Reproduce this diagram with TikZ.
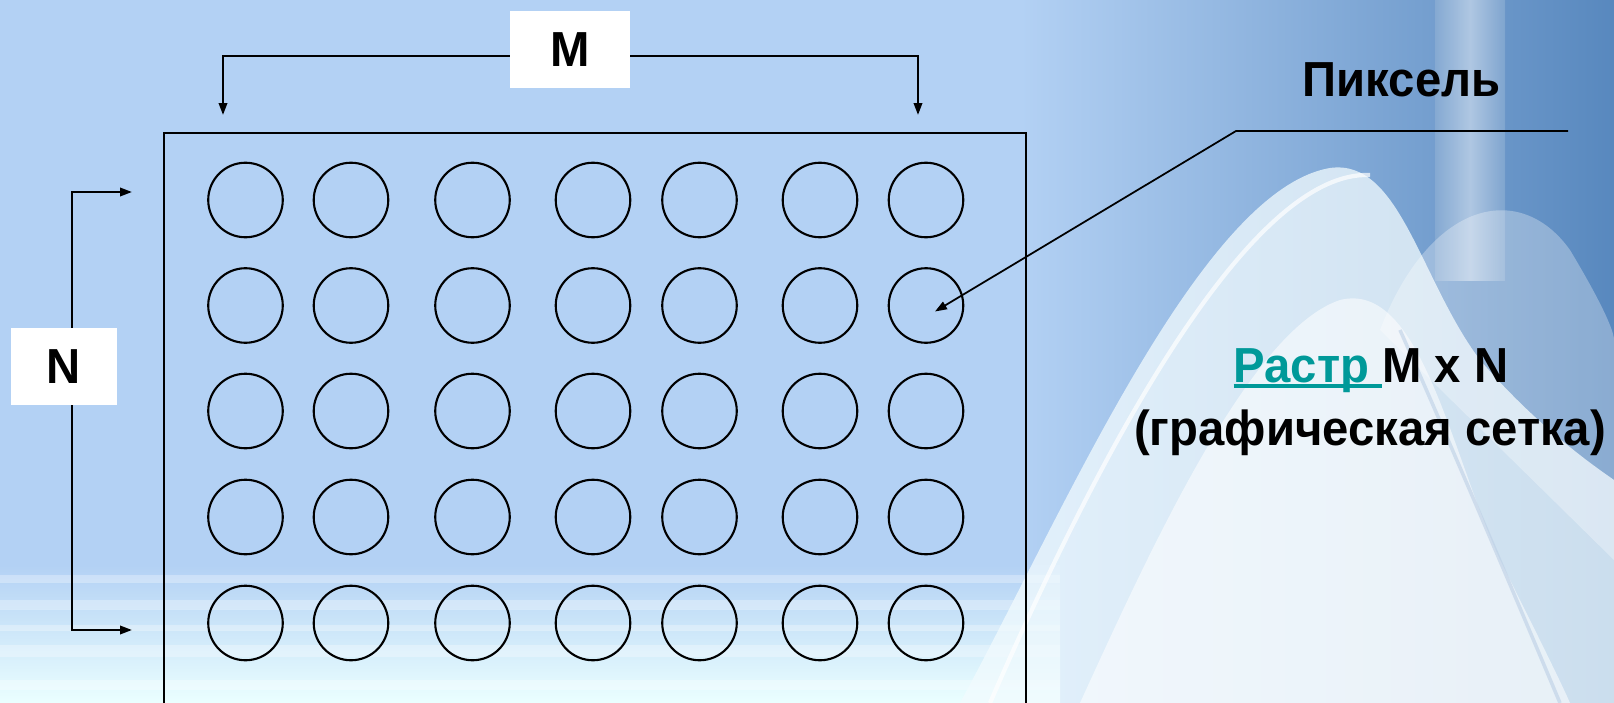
\documentclass[tikz,border=0pt]{standalone}
\usepackage{fontspec}
\setmainfont{Liberation Sans}
\usepackage{tikz}
\usetikzlibrary{arrows.meta,positioning,calc}
\definecolor{bgblue}{RGB}{179,209,244}
\definecolor{steel}{RGB}{88,136,190}
\definecolor{linkteal}{RGB}{0,153,153}
\newcommand{\linkword}[1]{\setbox0=\hbox{#1}\rlap{\rule[-0.12em]{\wd0}{0.07em}}\box0}

\begin{document}
\begin{tikzpicture}[x=0.01cm, y=-0.01cm,
  lbl/.style={font=\fontsize{14pt}{17pt}\selectfont\bfseries\addfontfeature{FakeStretch=0.96},
    inner sep=0pt},
  tag/.style={lbl, fill=white, minimum height=0.77cm},
  pixel/.style={draw, circle, line width=0.6pt, minimum size=0.745cm, inner sep=0pt},
  arr/.style={-{Triangle[length=3.4pt, width=2.4pt]}, line width=0.6pt}
]
  \useasboundingbox (0,0) rectangle (1614,703);
  \clip (0,0) rectangle (1614,703);

  % background
  \fill[bgblue] (0,0) rectangle (1614,703);
  \shade[left color=bgblue, right color=steel] (1020,0) rectangle (1614,703);
  \shade[top color=bgblue, bottom color=cyan!8!white] (0,565) rectangle (1060,703);
  \foreach \y/\h in {575/8, 600/10, 625/6, 645/12, 680/10}
    \fill[white, opacity=0.3] (0,\y) rectangle (1060,\y+\h);
  \shade[left color=steel!60!white, right color=steel!60!white, middle color=white,
    opacity=0.45] (1435,0) rectangle (1505,280);
  \fill[cyan!5!white, opacity=0.75] (960,703) .. controls (1060,520) and (1200,190) .. (1330,168)
    .. controls (1400,158) and (1420,280) .. (1480,360)
    .. controls (1540,430) and (1600,470) .. (1614,480) -- (1614,703) -- cycle;
  \fill[white, opacity=0.55] (1080,703) .. controls (1150,550) and (1250,330) .. (1340,300)
    .. controls (1420,280) and (1450,450) .. (1500,560)
    .. controls (1530,620) and (1560,680) .. (1570,703) -- cycle;
  \fill[white, opacity=0.3] (1380,330) .. controls (1430,200) and (1520,180) .. (1570,250)
    .. controls (1600,300) and (1614,330) .. (1614,340) -- (1614,560) -- cycle;
  \draw[white, line width=1.2pt, opacity=0.7] (990,703) .. controls (1100,450) and (1250,170) .. (1370,175);
  \draw[steel!40!white, line width=1pt, opacity=0.6] (1560,703) .. controls (1500,560) and (1440,420) .. (1400,330);

  % raster frame and pixels
  \node[draw, line width=0.6pt, anchor=north west, minimum width=8.615cm,
    minimum height=6cm, inner sep=0pt] (raster) at (162.5,131.5) {};
  \foreach \c/\x in {1/245.5,2/351,3/472.5,4/593,5/699.5,6/820,7/926}
    \foreach \r/\y in {1/200,2/305.5,3/411,4/517,5/623}
      \node[pixel] (p-\r-\c) at (\x,\y) {};

  % M (top)
  \coordinate (mmid) at (570,56);
  \coordinate (mleft) at (223,115);
  \coordinate (mright) at (918,115);
  \draw[arr] (mmid) -| (mleft);
  \draw[arr] (mmid) -| (mright);
  \node[tag, minimum width=1.2cm] (M) at (570,49.5) {M};

  % N (left)
  \coordinate (nmid) at (71.7,366);
  \coordinate (ntop) at (132,192);
  \coordinate (nbot) at (132,630);
  \draw[arr] (nmid) |- (ntop);
  \draw[arr] (nmid) |- (nbot);
  \node[tag, minimum width=1.06cm] (N) at (64,366.5) {N};

  % pixel label
  \node[lbl, anchor=base] (pixlbl) at (1401.5,97) {Пиксель};
  \coordinate (leadR) at (1568,131);
  \coordinate (leadK) at (1236,131);
  \coordinate (pixtip) at (935,311.5);
  \draw[arr, line width=0.5pt] (leadR) -- (leadK) -- (pixtip);

  % raster label
  \node[lbl, anchor=base] (rastr) at (1371,382)
    {{\color{linkteal}\linkword{Растр }}M x N};
  \node[lbl, anchor=base] (rastrsub) at (1370,445) {(графическая сетка)};
\end{tikzpicture}
\end{document}
